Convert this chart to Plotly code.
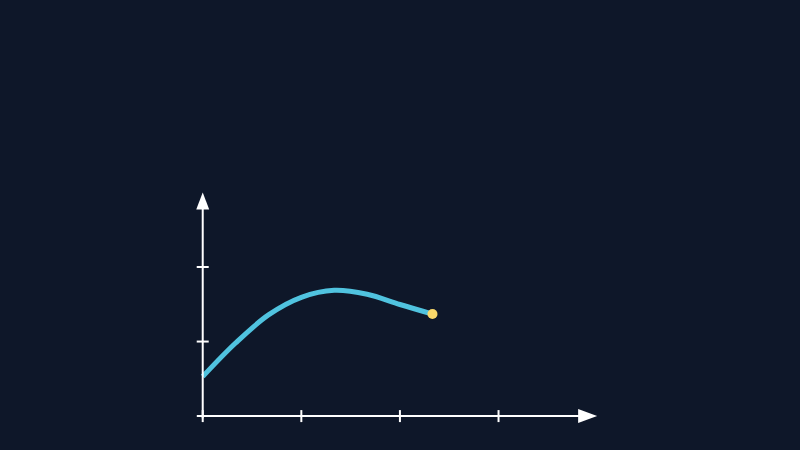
import plotly.graph_objects as go

# curve samples
curve_x = [0.0, 0.333, 0.667, 1.0, 1.333, 1.667, 2.0, 2.33]
curve_y = [0.53, 0.98, 1.357, 1.593, 1.687, 1.634, 1.497, 1.369]
x_ticks = [0, 1, 2, 3]
y_ticks = [1, 2]
x_max = 4
y_max = 3

bg = "#0e1729"
axis_col = "#ffffff"

fig = go.Figure()
fig.add_trace(go.Scatter(x=curve_x, y=curve_y, mode="lines",
                         line=dict(color="#50c3df", width=5, shape="spline", smoothing=1.0),
                         hoverinfo="skip"))
fig.add_trace(go.Scatter(x=[curve_x[-1]], y=[curve_y[-1]], mode="markers",
                         marker=dict(color="#f9d86a", size=10),
                         hoverinfo="skip"))

shapes = []
# axis lines
shapes.append(dict(type="line", xref="x", yref="y", x0=-0.06, x1=x_max - 0.15,
                   y0=0, y1=0, line=dict(color=axis_col, width=2)))
shapes.append(dict(type="line", xref="x", yref="y", x0=0, x1=0,
                   y0=-0.03, y1=y_max - 0.18, line=dict(color=axis_col, width=2)))
# arrowheads
shapes.append(dict(type="path", xref="x", yref="y", xsizemode="pixel",
                   ysizemode="pixel", xanchor=x_max, yanchor=0,
                   path="M 0 0 L -19 7 L -19 -7 Z",
                   fillcolor=axis_col, line=dict(color=axis_col, width=0)))
shapes.append(dict(type="path", xref="x", yref="y", xsizemode="pixel",
                   ysizemode="pixel", xanchor=0, yanchor=y_max,
                   path="M 0 0 L -6.5 -17 L 6.5 -17 Z",
                   fillcolor=axis_col, line=dict(color=axis_col, width=0)))
# crossing ticks
for t in x_ticks:
    shapes.append(dict(type="line", xref="x", yref="y", ysizemode="pixel",
                       yanchor=0, x0=t, x1=t, y0=-6, y1=6,
                       line=dict(color=axis_col, width=2)))
for t in y_ticks:
    shapes.append(dict(type="line", xref="x", yref="y", xsizemode="pixel",
                       xanchor=0, x0=-6, x1=6, y0=t, y1=t,
                       line=dict(color=axis_col, width=2)))

# padded ranges so the ticks and arrowheads are not clipped
fig.update_layout(
    width=800, height=450,
    margin=dict(l=183, r=193, t=185, b=19, pad=0),
    paper_bgcolor=bg, plot_bgcolor=bg,
    showlegend=False,
    shapes=shapes,
    xaxis=dict(range=[-0.2, x_max + 0.1], visible=False, fixedrange=True),
    yaxis=dict(range=[-0.2, y_max + 0.1], visible=False, fixedrange=True),
)

fig.write_html("out.html", config={"displayModeBar": False},
               post_script="document.body.style.margin='0';"
                           "document.body.style.background='#0e1729';")
